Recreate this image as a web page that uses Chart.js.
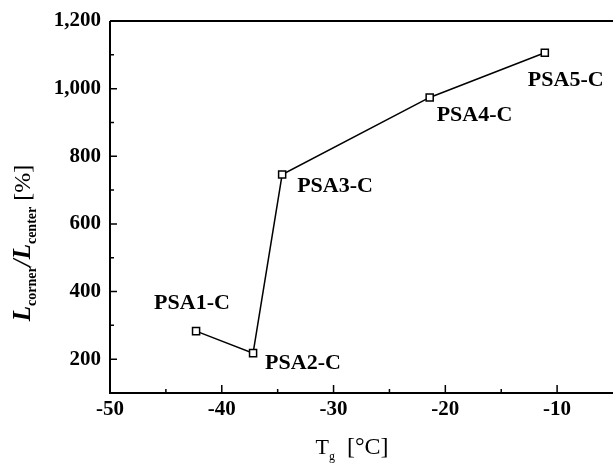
<!DOCTYPE html>
<html>
<head>
<meta charset="utf-8">
<script src="https://cdn.jsdelivr.net/npm/chart.js@4/dist/chart.umd.min.js"></script>
<style>
  html, body { margin: 0; padding: 0; background: #fff; }
</style>
</head>
<body>
<canvas id="chart" width="613" height="463"></canvas>
<script>
// data
var samples = ["PSA1-C", "PSA2-C", "PSA3-C", "PSA4-C", "PSA5-C"];
var tg = [-42.3, -37.2, -34.6, -21.4, -11.1];
var ratio = [283, 218, 746, 974, 1106];
var xTicks = [-50, -40, -30, -20, -10];
var yTicks = [200, 400, 600, 800, 1000, 1200];

// where each sample name sits relative to its point (dx to left edge, dy to text middle)
var labelOffsets = [[-42, -28], [12, 10], [15, 12], [7, 18], [-17, 28]];

var serif = "'Liberation Serif', 'Times New Roman', serif";

var points = tg.map(function(x, i) { return {x: x, y: ratio[i]}; });

var framePlugin = {
    id: 'frame',
    afterDraw: function(chart) {
        var ctx = chart.ctx;
        var a = chart.chartArea;
        var xs = chart.scales.x, ys = chart.scales.y;
        ctx.save();
        ctx.strokeStyle = '#000';
        ctx.lineWidth = 2;
        ctx.beginPath();
        ctx.moveTo(a.left, a.top);
        ctx.lineTo(a.right, a.top);
        ctx.moveTo(a.left, a.top);
        ctx.lineTo(a.left, a.bottom);
        ctx.lineTo(a.right, a.bottom);
        ctx.stroke();

        // inward ticks, major and minor
        ctx.lineWidth = 1.5;
        ctx.beginPath();
        for (var v = -45; v < -5; v += 5) {
            var px = xs.getPixelForValue(v);
            var len = (v % 10 === 0) ? 8 : 4;
            ctx.moveTo(px, a.bottom);
            ctx.lineTo(px, a.bottom - len);
        }
        for (var w = 200; w < 1200; w += 100) {
            var py = ys.getPixelForValue(w);
            var l2 = (w % 200 === 0) ? 7 : 4;
            ctx.moveTo(a.left, py);
            ctx.lineTo(a.left + l2, py);
        }
        ctx.stroke();

        // sample names
        ctx.fillStyle = '#000';
        ctx.font = "bold 22px " + serif;
        ctx.textBaseline = 'middle';
        ctx.textAlign = 'left';
        samples.forEach(function(s, i) {
            var x = xs.getPixelForValue(tg[i]);
            var y = ys.getPixelForValue(ratio[i]);
            ctx.fillText(s, x + labelOffsets[i][0], y + labelOffsets[i][1]);
        });

        // y axis title: L_corner / L_center [%]
        var parts = [
            {t: 'L', f: "italic bold 25px " + serif, dy: 0},
            {t: 'corner', f: "bold 14px " + serif, dy: 6},
            {t: '/', f: "italic bold 25px " + serif, dy: 0},
            {t: 'L', f: "italic bold 25px " + serif, dy: 0},
            {t: 'center', f: "bold 14px " + serif, dy: 6},
            {t: ' [%]', f: "24px " + serif, dy: 0}
        ];
        ctx.save();
        ctx.translate(30, 243);
        ctx.rotate(-Math.PI / 2);
        ctx.textBaseline = 'alphabetic';
        var total = 0;
        parts.forEach(function(p) { ctx.font = p.f; p.w = ctx.measureText(p.t).width; total += p.w; });
        var cx = -total / 2;
        parts.forEach(function(p) {
            ctx.font = p.f;
            ctx.fillText(p.t, cx, p.dy);
            cx += p.w;
        });
        ctx.restore();

        // x axis title: T_g [°C]
        var xp = [
            {t: 'T', f: "22px " + serif, dy: 0},
            {t: 'g', f: "12px " + serif, dy: 6},
            {t: '  [°C]', f: "24px " + serif, dy: 0}
        ];
        ctx.textBaseline = 'alphabetic';
        var tw = 0;
        xp.forEach(function(p) { ctx.font = p.f; p.w = ctx.measureText(p.t).width; tw += p.w; });
        var sx = 352 - tw / 2;
        xp.forEach(function(p) {
            ctx.font = p.f;
            ctx.fillText(p.t, sx, 454 + p.dy);
            sx += p.w;
        });
        ctx.restore();
    }
};

var ctx = document.getElementById('chart').getContext('2d');
var chart = new Chart(ctx, {
    type: 'scatter',
    data: {
        datasets: [{
            data: points,
            showLine: true,
            clip: false,
            borderColor: '#000',
            borderWidth: 1.5,
            pointStyle: 'rect',
            pointRadius: 5,
            pointBorderWidth: 1.5,
            pointBackgroundColor: '#fff',
            pointBorderColor: '#000'
        }]
    },
    options: {
        responsive: false,
        animation: false,
        // no auto padding: plot area runs to the right canvas edge like the original
        layout: { autoPadding: false, padding: { left: 0, top: 21, right: 0, bottom: 0 } },
        plugins: { legend: { display: false }, tooltip: { enabled: false } },
        scales: {
            x: {
                type: 'linear',
                min: -50,
                max: -5,
                grid: { display: false, drawTicks: false },
                border: { display: false },
                afterBuildTicks: function(scale) {
                    scale.ticks = xTicks.map(function(v) { return {value: v}; });
                },
                afterFit: function(scale) {
                    scale.height = 70;
                    scale.paddingRight = 0;
                    scale.paddingLeft = 0;
                },
                ticks: {
                    color: '#000',
                    padding: 4,
                    maxRotation: 0,
                    font: { family: serif, size: 21, weight: 'bold' }
                }
            },
            y: {
                min: 100,
                max: 1200,
                grid: { display: false, drawTicks: false },
                border: { display: false },
                afterBuildTicks: function(scale) {
                    scale.ticks = yTicks.map(function(v) { return {value: v}; });
                },
                afterFit: function(scale) {
                    scale.width = 110;
                    scale.paddingTop = 0;
                    scale.paddingBottom = 0;
                },
                ticks: {
                    color: '#000',
                    padding: 9,
                    font: { family: serif, size: 21, weight: 'bold' },
                    callback: function(v) { return v.toLocaleString('en-US'); }
                }
            }
        }
    },
    plugins: [framePlugin]
});
</script>
</body>
</html>
